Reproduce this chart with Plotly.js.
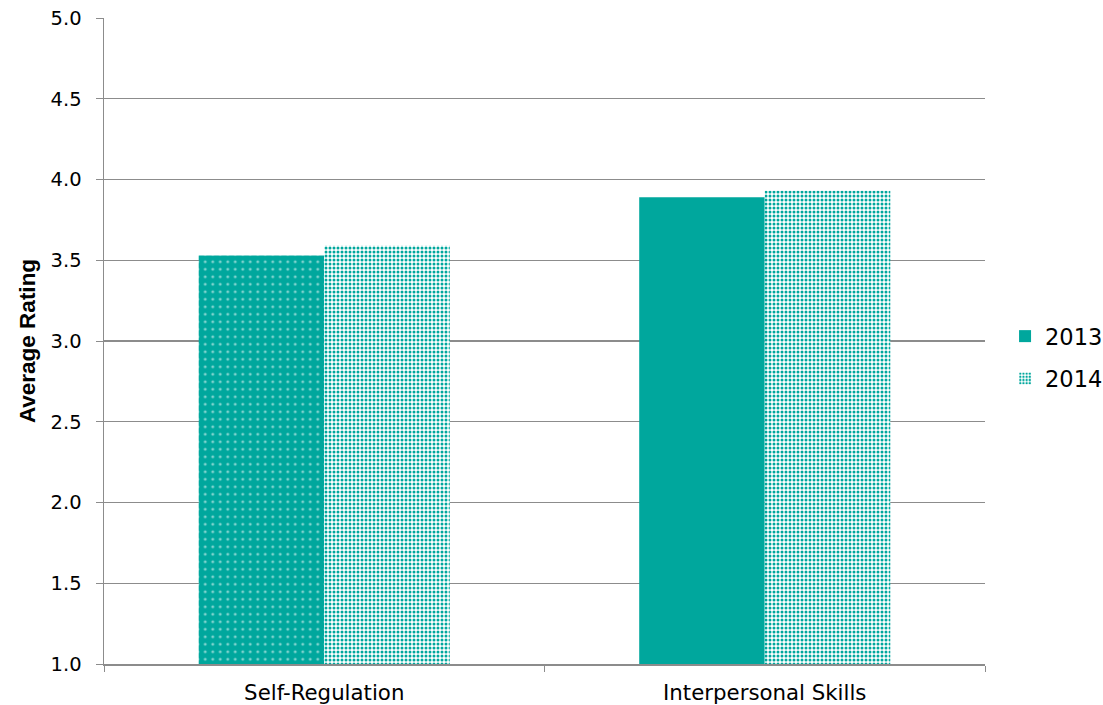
<!DOCTYPE html>
<html>
<head>
<meta charset="utf-8">
<script src="https://cdn.plot.ly/plotly-3.0.1.min.js"></script>
<style>
  html, body { margin: 0; padding: 0; background: #fff; }
  #chart { width: 1103px; height: 705px; }
</style>
</head>
<body>
<div id="chart"></div>
<script>
// Average ratings by skill area, two survey years
const categories = ['Self-Regulation', 'Interpersonal Skills'];
const years = ['2013', '2014'];
const ratings2013 = [3.53, 3.89];
const ratings2014 = [3.59, 3.93];
const yTicks = [1.0, 1.5, 2.0, 2.5, 3.0, 3.5, 4.0, 4.5, 5.0];

const teal = '#00A79D';
const baseFamily = '"DejaVu Sans", sans-serif';

// The legend swatch takes the style of a trace's first point, so the
// bars are fed in reverse order and the axis keeps the category order.
const order = categories.map((_, i) => i).reverse();
const pick = arr => order.map(i => arr[i]);

const traces = [
  {
    type: 'bar',
    name: years[0],
    legendgroup: 'y2013',
    x: pick(categories),
    y: pick(ratings2013),
    marker: {
      color: teal,
      line: { width: 0 },
      // Self-Regulation bar carries a white dot screen, the other is solid
      pattern: { shape: pick(['.', '']), fillmode: 'overlay', fgcolor: '#ffffff', size: 7.5, solidity: 0.12 }
    }
  },
  {
    type: 'bar',
    name: years[1],
    legendgroup: 'y2014',
    x: pick(categories),
    y: pick(ratings2014),
    marker: {
      color: '#ffffff',
      line: { width: 0 },
      pattern: { shape: '.', fillmode: 'replace', bgcolor: '#ffffff', fgcolor: teal, size: 4, solidity: 0.45 }
    }
  }
];

const layout = {
  width: 1103,
  height: 705,
  margin: { l: 104, r: 118, t: 18, b: 41 },
  paper_bgcolor: '#fff',
  plot_bgcolor: '#fff',
  barmode: 'group',
  bargap: 0.43,
  bargroupgap: 0,
  font: { family: baseFamily, size: 19, color: '#000' },
  xaxis: {
    type: 'category',
    categoryorder: 'array',
    categoryarray: categories,
    showline: true,
    linecolor: '#8c8c8c',
    linewidth: 1.5,
    ticks: 'outside',
    tickson: 'boundaries',
    ticklen: 6,
    tickcolor: '#8c8c8c',
    ticklabelstandoff: 9,
    tickfont: { family: baseFamily, size: 21.3, color: '#000' },
    showgrid: false,
    zeroline: false
  },
  yaxis: {
    range: [1, 5],
    tickvals: yTicks,
    ticktext: yTicks.map(v => v.toFixed(1)),
    showline: true,
    linecolor: '#8c8c8c',
    linewidth: 1.5,
    ticks: 'outside',
    ticklen: 7,
    tickcolor: '#8c8c8c',
    ticklabelstandoff: 10,
    showgrid: true,
    gridcolor: '#8c8c8c',
    gridwidth: 1.2,
    zeroline: false,
    tickfont: { family: baseFamily, size: 19.5, color: '#000' },
    title: {
      text: '<b>Average Rating</b>',
      font: { family: '"Liberation Sans", Arial, sans-serif', size: 22.5, color: '#000' },
      standoff: 8
    }
  },
  legend: {
    xref: 'container',
    yref: 'container',
    x: 0.9112,
    xanchor: 'left',
    y: 1 - 357.5 / 705,
    yanchor: 'middle',
    font: { family: baseFamily, size: 22.5, color: '#000' },
    traceorder: 'grouped',
    tracegroupgap: 10,
    itemwidth: 30,
    bgcolor: 'rgba(0,0,0,0)'
  },
  showlegend: true
};

Plotly.newPlot('chart', traces, layout, { displayModeBar: false, staticPlot: true });
</script>
</body>
</html>
